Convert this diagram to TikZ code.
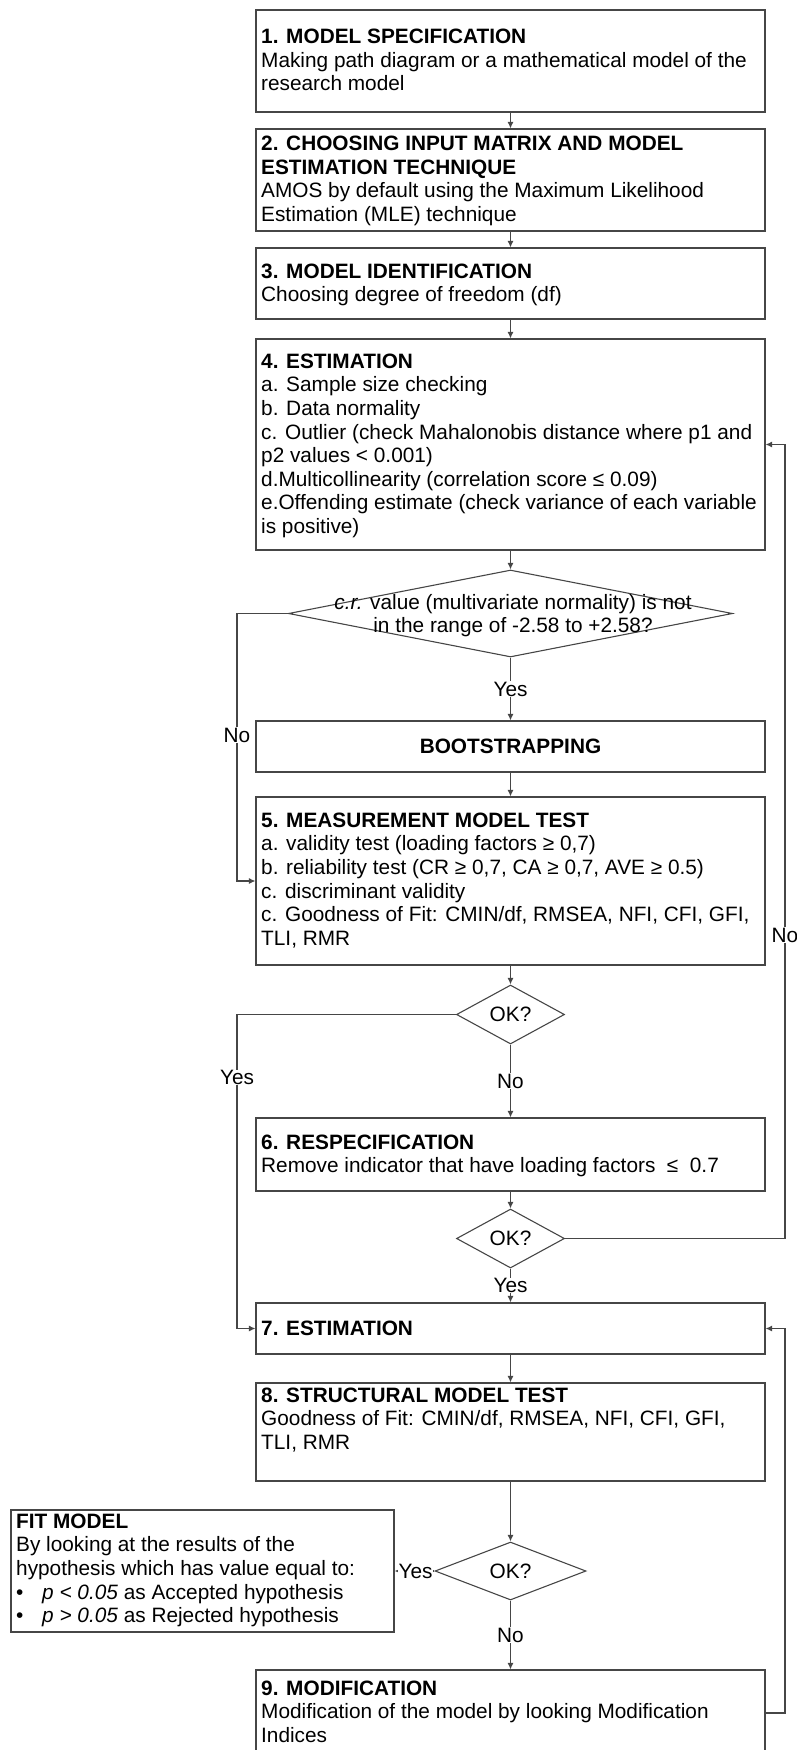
\documentclass[tikz,border=0pt]{standalone}
\usepackage{fontspec}
\setmainfont{Liberation Sans}
\usetikzlibrary{shapes.geometric,arrows.meta}
\definecolor{linec}{RGB}{70,70,70}
\newcommand{\fst}{\rule{0pt}{16pt}}
\begin{document}
\begin{tikzpicture}[x=1pt,y=-1pt,
  every node/.style={font=\fontsize{20.8pt}{23.6pt}\selectfont},
  box/.style={draw=linec, line width=1.1pt, rectangle, minimum width=509pt, inner sep=0pt},
  txt/.style={anchor=north west, inner sep=0pt, align=left},
  dia/.style={draw=linec, line width=1.1pt, diamond, inner sep=0pt},
  arr/.style={draw=linec, line width=1.1pt, -{Latex[length=6.5pt,width=6pt]}},
  lbl/.style={fill=white, inner sep=0.5pt}]
\useasboundingbox (0,0) rectangle (797,1750);

% boxes
\node[box, minimum height=102pt] (b1) at (510.5,61) {};
\node[txt] (t1) at (261,27.5) {\fst\textbf{1. MODEL SPECIFICATION}\\Making path diagram or a mathematical model of the\\research model};

\node[box, minimum height=102pt] (b2) at (510.5,180) {};
\node[txt] (t2) at (261,134.5) {\fst\textbf{2. CHOOSING INPUT MATRIX AND MODEL}\\\textbf{ESTIMATION TECHNIQUE}\\AMOS by default using the Maximum Likelihood\\Estimation (MLE) technique};

\node[box, minimum height=71pt] (b3) at (510.5,283.5) {};
\node[txt] (t3) at (261,262) {\fst\textbf{3. MODEL IDENTIFICATION}\\Choosing degree of freedom (df)};

\node[box, minimum height=211pt] (b4) at (510.5,444.5) {};
\node[txt] (t4) at (261,352) {\fst\textbf{4. ESTIMATION}\\a. Sample size checking\\b. Data normality\\c. Outlier (check Mahalonobis distance where p1 and\\p2 values < 0.001)\\d.Multicollinearity (correlation score ≤ 0.09)\\e.Offending estimate (check variance of each variable\\is positive)};

\node[dia, minimum width=444pt, minimum height=87pt] (d1) at (510.5,613.5) {};
\node[anchor=north, inner sep=0pt, align=center] (d1t) at (513,593) {\fst\textit{c.r.} value (multivariate normality) is not\\in the range of -2.58 to +2.58?};

\node[box, minimum height=51pt] (bs) at (510.5,746.5) {\textbf{BOOTSTRAPPING}};

\node[box, minimum height=168pt] (b5) at (510.5,881) {};
\node[txt] (t5) at (261,811) {\fst\textbf{5. MEASUREMENT MODEL TEST}\\a. validity test (loading factors ≥ 0,7)\\b. reliability test (CR ≥ 0,7, CA ≥ 0,7, AVE ≥ 0.5)\\c. discriminant validity\\c. Goodness of Fit: CMIN/df, RMSEA, NFI, CFI, GFI,\\TLI, RMR};

\node[dia, minimum width=108pt, minimum height=59pt, aspect=1.83] (ok1) at (510.5,1014.5) {OK?};

\node[box, minimum height=73pt] (b6) at (510.5,1154.5) {};
\node[txt] (t6) at (261,1133) {\fst\textbf{6. RESPECIFICATION}\\Remove indicator that have loading factors \ ≤ \ 0.7};

\node[dia, minimum width=108pt, minimum height=59pt, aspect=1.83] (ok2) at (510.5,1238.5) {OK?};

\node[box, minimum height=51pt] (b7) at (510.5,1328.5) {};
\node[txt] (t7) at (261,1319) {\fst\textbf{7. ESTIMATION}};

\node[box, minimum height=98pt] (b8) at (510.5,1432) {};
\node[txt] (t8) at (261,1386) {\fst\textbf{8. STRUCTURAL MODEL TEST}\\Goodness of Fit: CMIN/df, RMSEA, NFI, CFI, GFI,\\TLI, RMR};

\node[dia, minimum width=151pt, minimum height=58pt, aspect=2.6] (ok3) at (510.5,1571) {OK?};

\node[box, minimum width=383pt, minimum height=122pt] (fit) at (202.5,1571) {};
\node[txt] (tfit) at (16,1512) {\fst\textbf{FIT MODEL}\\By looking at the results of the\\hypothesis which has value equal to:\\\makebox[26pt][l]{•}\textit{p < 0.05} as Accepted hypothesis\\\makebox[26pt][l]{•}\textit{p > 0.05} as Rejected hypothesis};

\node[box, minimum height=86pt] (b9) at (510.5,1713) {};
\node[txt] (t9) at (261,1679) {\fst\textbf{9. MODIFICATION}\\Modification of the model by looking Modification\\Indices};

% connectors
\draw[arr] (b1) -- (b2);
\draw[arr] (b2) -- (b3);
\draw[arr] (b3) -- (b4);
\draw[arr] (b4) -- (d1);
\draw[arr] (d1) -- node[lbl]{Yes} (bs);
\draw[arr] (bs) -- (b5);
\draw[arr] (b5) -- (ok1);
\draw[arr] (ok1) -- node[lbl]{No} (b6);
\draw[arr] (b6) -- (ok2);
\draw[arr] (ok2) -- node[lbl]{Yes} (b7);
\draw[arr] (b7) -- (b8);
\draw[arr] (b8) -- (ok3);
\draw[arr] (ok3) -- node[lbl]{No} (b9);
\draw[arr] (ok3.west) -- node[lbl,pos=0.475]{Yes} (fit.east);

\coordinate (cL1) at (237,613.5);
\draw[arr] (d1.west) -- (cL1) |- node[lbl,pos=0.227]{No} (b5.west);
\coordinate (cL2) at (237,1014.5);
\draw[arr] (ok1.west) -- (cL2) |- node[lbl,pos=0.1]{Yes} (b7.west);
\coordinate (cR1) at (785,1238.5);
\draw[arr] (ok2.east) -- (cR1) |- node[lbl,pos=0.191]{No} (b4.east);
\coordinate (cR2) at (785,1713);
\draw[arr] (b9.east) -- (cR2) |- (b7.east);
\end{tikzpicture}
\end{document}
